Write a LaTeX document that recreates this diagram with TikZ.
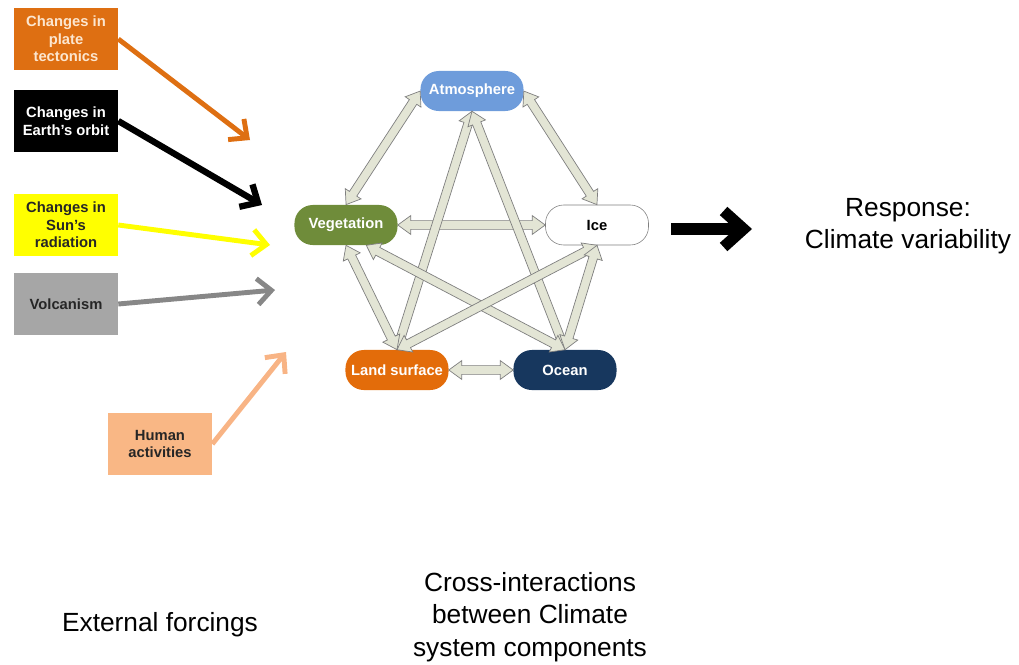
\documentclass[tikz,border=0pt]{standalone}
\usepackage{fontspec}
\setmainfont{Liberation Sans}
\usetikzlibrary{arrows.meta, shapes.arrows, calc, positioning}

\definecolor{tectonic}{HTML}{DE6F12}
\definecolor{tectonictext}{HTML}{FCE6CF}
\definecolor{sunyellow}{HTML}{FFFF00}
\definecolor{volcgray}{HTML}{A6A6A6}
\definecolor{volcarrow}{HTML}{878787}
\definecolor{humanpeach}{HTML}{F9B785}
\definecolor{humanarrow}{HTML}{F8B485}
\definecolor{atmblue}{HTML}{6E9CDB}
\definecolor{vegolive}{HTML}{6F8C3A}
\definecolor{landorange}{HTML}{E36C0A}
\definecolor{oceannavy}{HTML}{17375E}
\definecolor{linkfill}{HTML}{E3E5D5}
\definecolor{linkline}{HTML}{7F7F7F}

% double block arrow between two anchors
\newcommand{\couple}[2]{%
  \path let \p1=(#1), \p2=(#2), \n1={veclen(\x2-\x1,\y2-\y1)} in
    (\p1) -- (\p2) node[link, midway, sloped, minimum height=\n1] {};}

\begin{document}
\begin{tikzpicture}[x=0.025cm, y=-0.025cm,
 forcing/.style={rectangle, minimum width=2.6cm, minimum height=1.55cm,
   align=center, inner sep=1pt, text=black!85,
   font=\bfseries\fontsize{10.5}{12.5}\selectfont},
 comp/.style={rectangle, rounded corners=13pt, minimum width=2.575cm,
   minimum height=1cm, text=white, font=\bfseries\fontsize{10.5}{12}\selectfont},
 link/.style={double arrow, draw=linkline, fill=linkfill, line width=0.5pt,
   inner sep=0.095cm, minimum width=0.47cm, double arrow head extend=0.12cm,
   double arrow tip angle=72},
 push/.style={-{Straight Barb[length=3.5mm, width=6.5mm]}},
 caption/.style={font=\fontsize{18.7}{23}\selectfont, align=center}]

  \useasboundingbox (0,0) rectangle (1019,664);

  % external forcings
  \node[forcing, fill=tectonic, text=tectonictext] (tect) at (66,39) {Changes in\\plate\\tectonics};
  \node[forcing, fill=black, text=white] (orbit) at (66,121) {Changes in\\Earth's orbit};
  \node[forcing, fill=sunyellow] (sun) at (66,225) {Changes in\\Sun's\\radiation};
  \node[forcing, fill=volcgray] (volc) at (66,304) {Volcanism};
  \node[forcing, fill=humanpeach] (human) at (160,444) {Human\\activities};

  \coordinate (tect-end) at (250,140);
  \coordinate (orbit-end) at (262,205);
  \coordinate (sun-end) at (270,245);
  \coordinate (volc-end) at (275,290);
  \coordinate (human-end) at (286,352);

  \foreach \s/\c/\w in {tect/tectonic/3.5pt, orbit/black/4.5pt, sun/sunyellow/3.5pt,
                        volc/volcarrow/3.5pt, human/humanarrow/3.5pt}
    \draw[push, \c, line width=\w] (\s.east) -- (\s-end);

  % climate system components
  \node[comp, fill=atmblue] (atm) at (472,91) {Atmosphere};
  \node[comp, fill=vegolive] (veg) at (346,225) {Vegetation};
  \node[comp, fill=white, draw=linkline, text=black] (ice) at (597,225) {Ice};
  \node[comp, fill=landorange] (land) at (397,370) {Land surface};
  \node[comp, fill=oceannavy] (ocean) at (565,370) {Ocean};

  \foreach \s/\t in {veg.north/atm.west, atm.east/ice.north, veg.east/ice.west,
                     atm.south/land.north, atm.south/ocean.north, veg.south/land.north,
                     veg.-45/ocean.north, ice.south/land.north,
                     ice.south/ocean.north, land.east/ocean.west}
    {\couple{\s}{\t}}

  % response
  \coordinate (out-start) at (671,229);
  \coordinate (out-end) at (752,229);
  \draw[line width=8pt, -{Straight Barb[length=5mm, width=9mm]}] (out-start) -- (out-end);
  \node[caption] (resp) at (908,226) {Response:\\Climate variability};

  % bottom captions
  \node[caption] (ext) at (160,625) {External forcings};
  \node[caption] (cross) at (530,617) {Cross-interactions\\between Climate\\system components};
\end{tikzpicture}
\end{document}
